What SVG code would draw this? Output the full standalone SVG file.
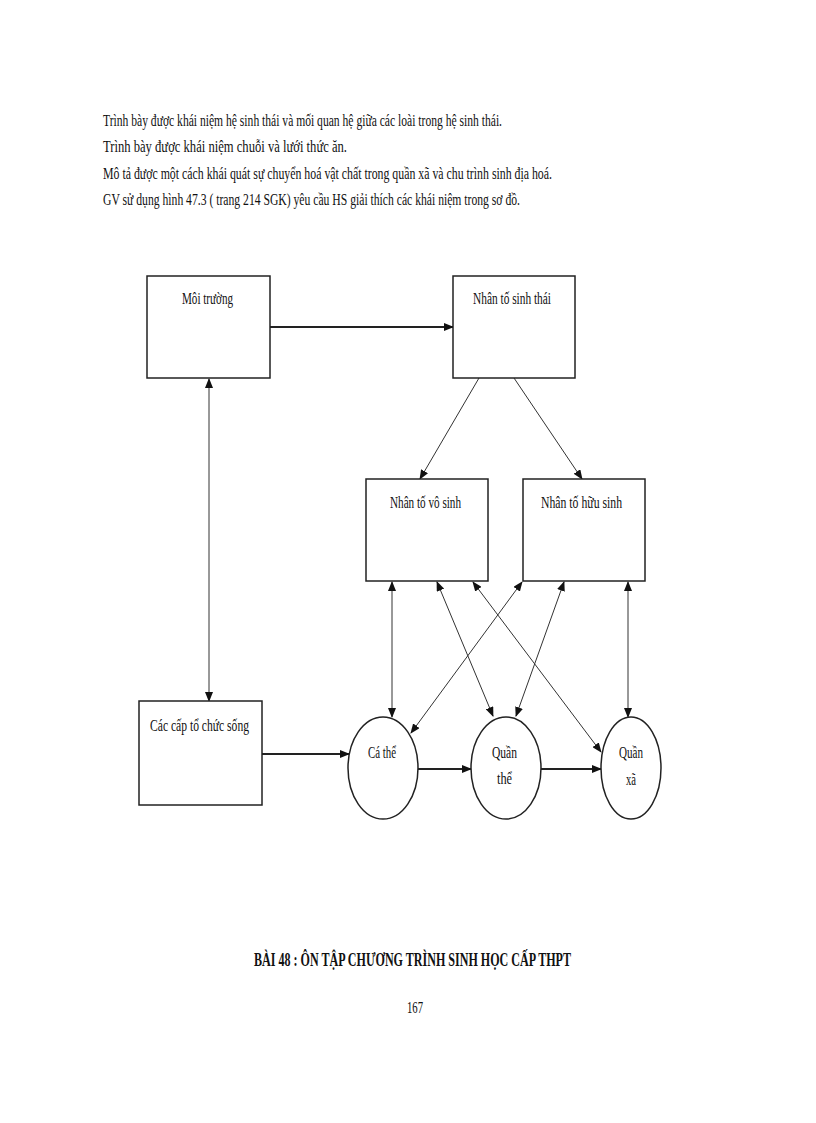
<svg xmlns="http://www.w3.org/2000/svg" width="816" height="1123" viewBox="0 0 816 1123">
<style>
text{font-family:"Liberation Serif","Times New Roman",serif;font-size:16px;fill:#111;}
.box{fill:#fff;stroke:#222;stroke-width:1.5;}
.circ{fill:#fff;stroke:#222;stroke-width:1.5;}
.ln{stroke:#333;stroke-width:1;fill:none;}
.thick{stroke:#222;stroke-width:2;fill:none;}
.title{font-size:19px;font-weight:bold;}
</style>
<defs>
<marker id="ah" markerUnits="userSpaceOnUse" markerWidth="10" markerHeight="8" refX="9" refY="4" orient="auto">
<path d="M0,0 L10,4 L0,8 Z" fill="#111"/>
</marker>
<marker id="as" markerUnits="userSpaceOnUse" markerWidth="10" markerHeight="8" refX="1" refY="4" orient="auto">
<path d="M10,0 L0,4 L10,8 Z" fill="#111"/>
</marker>
</defs>
<rect width="816" height="1123" fill="#fff"/>

<g id="intro">
<text x="103" y="126" textLength="399" lengthAdjust="spacingAndGlyphs">Trình  bày được khái niệm  hệ  sinh  thái  và mối  quan hệ giữa các loài trong hệ sinh  thái.</text>
<text x="103" y="152" textLength="244" lengthAdjust="spacingAndGlyphs">Trình  bày được khái niệm  chuỗi  và lưới thức ăn.</text>
<text x="103" y="179" textLength="449" lengthAdjust="spacingAndGlyphs">Mô tả được một cách khái quát sự chuyển  hoá vật chất trong  quần xã và chu trình  sinh  địa hoá.</text>
<text x="103" y="205" textLength="417" lengthAdjust="spacingAndGlyphs">GV sử dụng hình  47.3 ( trang  214 SGK) yêu cầu HS giải  thích  các khái niệm  trong  sơ đồ.</text>
</g>

<g id="connectors">
<line class="thick" x1="270" y1="327" x2="453" y2="327" marker-end="url(#ah)"/>
<line class="ln" x1="209" y1="379" x2="209" y2="701" marker-start="url(#as)" marker-end="url(#ah)"/>
<line class="ln" x1="479" y1="378" x2="420" y2="479" marker-end="url(#ah)"/>
<line class="ln" x1="514" y1="378" x2="582" y2="479" marker-end="url(#ah)"/>
<line class="ln" x1="392" y1="582" x2="392" y2="717" marker-start="url(#as)" marker-end="url(#ah)"/>
<line class="ln" x1="437" y1="582" x2="493" y2="716" marker-start="url(#as)" marker-end="url(#ah)"/>
<line class="ln" x1="473" y1="582" x2="601" y2="752" marker-start="url(#as)" marker-end="url(#ah)"/>
<line class="ln" x1="522" y1="582" x2="411" y2="733" marker-start="url(#as)" marker-end="url(#ah)"/>
<line class="ln" x1="564" y1="582" x2="516" y2="716" marker-start="url(#as)" marker-end="url(#ah)"/>
<line class="ln" x1="628" y1="582" x2="628" y2="717" marker-start="url(#as)" marker-end="url(#ah)"/>
<line class="thick" x1="262" y1="754" x2="349" y2="754" marker-end="url(#ah)"/>
<line class="thick" x1="418" y1="769" x2="471" y2="769" marker-end="url(#ah)"/>
<line class="thick" x1="541" y1="769" x2="601" y2="769" marker-end="url(#ah)"/>
</g>

<g id="moi-truong">
<rect class="box" x="147" y="276" width="123" height="102"/>
<text x="182" y="304" textLength="51" lengthAdjust="spacingAndGlyphs">Môi trường</text>
</g>
<g id="nhan-to-sinh-thai">
<rect class="box" x="453" y="276" width="122" height="102"/>
<text x="473" y="304" textLength="78" lengthAdjust="spacingAndGlyphs">Nhân tố sinh  thái</text>
</g>
<g id="nhan-to-vo-sinh">
<rect class="box" x="366" y="479" width="122" height="102"/>
<text x="390" y="508" textLength="71" lengthAdjust="spacingAndGlyphs">Nhân tố vô sinh</text>
</g>
<g id="nhan-to-huu-sinh">
<rect class="box" x="523" y="479" width="122" height="102"/>
<text x="541" y="508" textLength="81" lengthAdjust="spacingAndGlyphs">Nhân tố  hữu sinh</text>
</g>
<g id="cac-cap">
<rect class="box" x="139" y="701" width="123" height="104"/>
<text x="150" y="731" textLength="99" lengthAdjust="spacingAndGlyphs">Các cấp tổ chức sống</text>
</g>
<g id="ca-the">
<ellipse class="circ" cx="383" cy="768" rx="35" ry="51"/>
<text x="368" y="758" textLength="28" lengthAdjust="spacingAndGlyphs">Cá thể</text>
</g>
<g id="quan-the">
<ellipse class="circ" cx="506" cy="768" rx="35" ry="51"/>
<text x="492" y="758" textLength="25" lengthAdjust="spacingAndGlyphs">Quần</text>
<text x="497" y="784" textLength="15" lengthAdjust="spacingAndGlyphs">thể</text>
</g>
<g id="quan-xa">
<ellipse class="circ" cx="631" cy="768" rx="30" ry="51"/>
<text x="619" y="758" textLength="24" lengthAdjust="spacingAndGlyphs">Quần</text>
<text x="626" y="785" textLength="10" lengthAdjust="spacingAndGlyphs">xã</text>
</g>

<g id="footer">
<text class="title" x="254" y="966" textLength="317" lengthAdjust="spacingAndGlyphs">BÀI 48 : ÔN TẬP CHƯƠNG TRÌNH SINH HỌC CẤP THPT</text>
<text x="407" y="1013" textLength="16" lengthAdjust="spacingAndGlyphs">167</text>
</g>
</svg>
